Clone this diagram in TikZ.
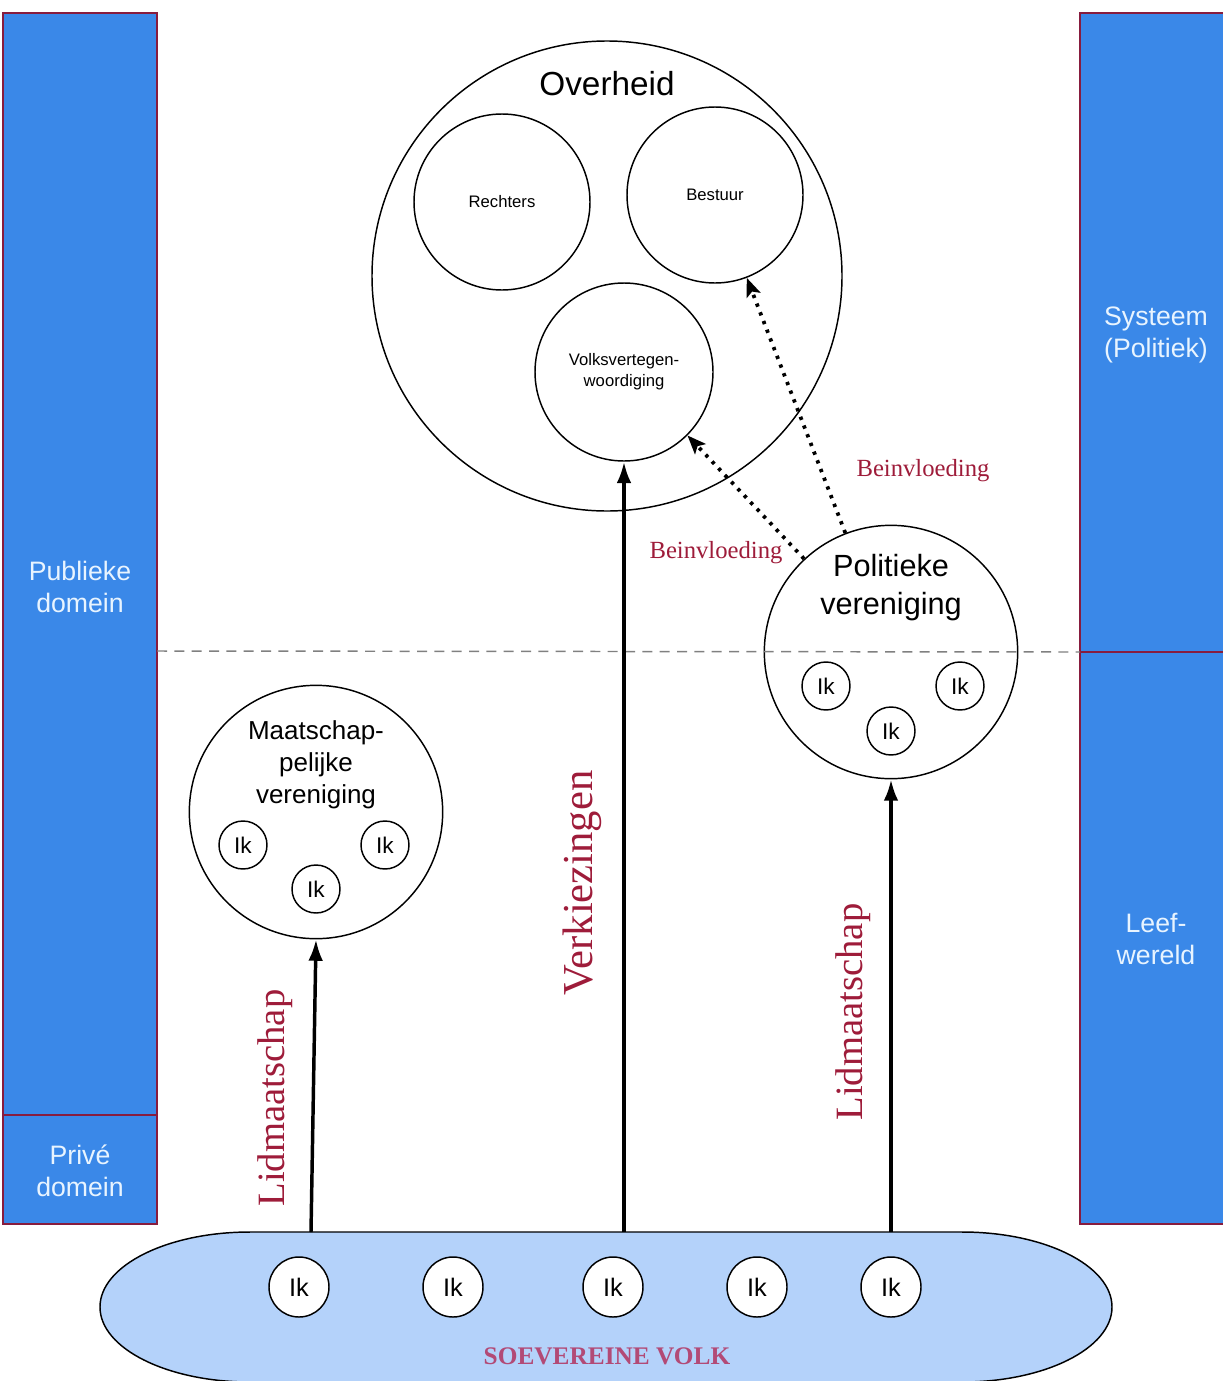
\documentclass[tikz,border=0pt]{standalone}
\usepackage{fontspec}
\setmainfont{Liberation Sans}
\newfontfamily\redserif{Liberation Serif}
\usetikzlibrary{arrows.meta}

\definecolor{barblue}{RGB}{58,136,232}
\definecolor{barred}{RGB}{135,28,62}
\definecolor{barwhite}{RGB}{232,244,255}
\definecolor{volkblue}{RGB}{180,210,250}
\definecolor{labelred}{RGB}{158,28,58}
\definecolor{volkred}{RGB}{178,74,118}

\tikzset{every picture/.style={line width=0.75pt}}

\begin{document}
\begin{tikzpicture}[x=0.75pt,y=0.75pt,yscale=-1,xscale=1,
	bar/.style={draw=barred, fill=barblue, line width=1.6pt},
	barlabel/.style={text=barwhite, align=center, font=\fontsize{20}{24}\selectfont},
	ring/.style={draw, circle, fill=white, line width=1.1pt, inner sep=0pt, align=center},
	ik/.style={ring, minimum size=36pt, font=\fontsize{17}{20}\selectfont},
	bigik/.style={ring, minimum size=45pt, font=\fontsize{19}{22}\selectfont},
	organ/.style={ring, minimum size=132pt, font=\fontsize{12.5}{16}\selectfont},
	club/.style={ring, minimum size=190pt},
	redlabel/.style={text=labelred, font=\redserif\fontsize{#1}{#1}\selectfont},
	vote/.style={-{Latex[length=16pt,width=11pt]}, line width=2.6pt},
	push/.style={-{Stealth[length=14pt,width=11pt,inset=3pt]}, line width=2.8pt, dash pattern=on 2.5pt off 4.5pt}
]
	\useasboundingbox (0,0) rectangle (1223,1381);
	\clip (0,0) rectangle (1223,1381);

	% side bars
	\draw[bar] (3,13) rectangle (157,1115);
	\draw[bar] (3,1115) rectangle (157,1224);
	\draw[bar] (1080,13) rectangle (1230,652);
	\draw[bar] (1080,652) rectangle (1230,1224);
	\node[barlabel] (publiek) at (80,587) {Publieke\\domein};
	\node[barlabel] (prive) at (80,1171) {Privé\\domein};
	\node[barlabel] (systeem) at (1156,335) {Systeem\\(Politiek)};
	\node[barlabel] (leefwereld) at (1156,939) {Leef-\\wereld};

	% soevereine volk
	\draw[line width=1.1pt, fill=volkblue] (250,1232) -- (962,1232) .. controls (1044.8,1232) and (1112,1265.6) .. (1112,1307) .. controls (1112,1348.4) and (1044.8,1382) .. (962,1382) -- (250,1382) .. controls (167.2,1382) and (100,1348.4) .. (100,1307) .. controls (100,1265.6) and (167.2,1232) .. (250,1232) -- cycle;
	\node[text=volkred, font=\redserif\bfseries\fontsize{19}{22}\selectfont] (volk) at (607,1356) {SOEVEREINE VOLK};
	\node[bigik] (ik1) at (299,1287) {Ik};
	\node[bigik] (ik2) at (453,1287) {Ik};
	\node[bigik] (ik3) at (613,1287) {Ik};
	\node[bigik] (ik4) at (757,1287) {Ik};
	\node[bigik] (ik5) at (891,1287) {Ik};

	% overheid
	\node[ring, minimum size=352.5pt] (overheid) at (607,276) {};
	\node[font=\fontsize{25}{28}\selectfont] (overheidlabel) at (607,84) {Overheid};
	\node[organ] (rechters) at (502,202) {Rechters};
	\node[organ] (bestuur) at (715,195) {Bestuur};
	\node[organ, minimum size=133.5pt] (volksvert) at (624,372) {Volksvertegen-\\woordiging};

	% politieke vereniging
	\node[club] (politiek) at (891,652) {};
	\node[align=center, font=\fontsize{23}{28.5}\selectfont] (politieklabel) at (891,588) {Politieke\\vereniging};
	\node[ik] (pik1) at (826,686) {Ik};
	\node[ik] (pik2) at (960,686) {Ik};
	\node[ik] (pik3) at (891,731) {Ik};

	% maatschappelijke vereniging
	\node[club] (maatschap) at (316,812) {};
	\node[align=center, font=\fontsize{19.5}{24}\selectfont] (maatschaplabel) at (316,765) {Maatschap-\\pelijke\\vereniging};
	\node[ik] (mik1) at (243,845) {Ik};
	\node[ik] (mik2) at (385,845) {Ik};
	\node[ik] (mik3) at (316,889) {Ik};

	% border between public and system
	\draw[gray, line width=1.1pt, dash pattern=on 7.5pt off 5.5pt] (157,651) -- (1080,652);

	% connectors
	\coordinate (lid1) at (311,1232);
	\coordinate (stem) at (624,1232);
	\coordinate (lid2) at (891,1232);
	\draw[vote] (lid1) -- (maatschap.south);
	\draw[vote] (stem) -- (volksvert.south);
	\draw[vote] (lid2) -- (politiek.south);
	\draw[push] (politiek.111) -- (bestuur.-69);
	\draw[push] (politiek.133) -- (volksvert.-45);

	% labels
	\node[redlabel=29, rotate=90] (lidlabel1) at (275,1098) {Lidmaatschap};
	\node[redlabel=32, rotate=90] (stemlabel) at (582,883) {Verkiezingen};
	\node[redlabel=29, rotate=90] (lidlabel2) at (853,1012) {Lidmaatschap};
	\node[redlabel=18.5] (invloed1) at (923,471) {Beinvloeding};
	\node[redlabel=18.5] (invloed2) at (716,553) {Beinvloeding};

\end{tikzpicture}
\end{document}
